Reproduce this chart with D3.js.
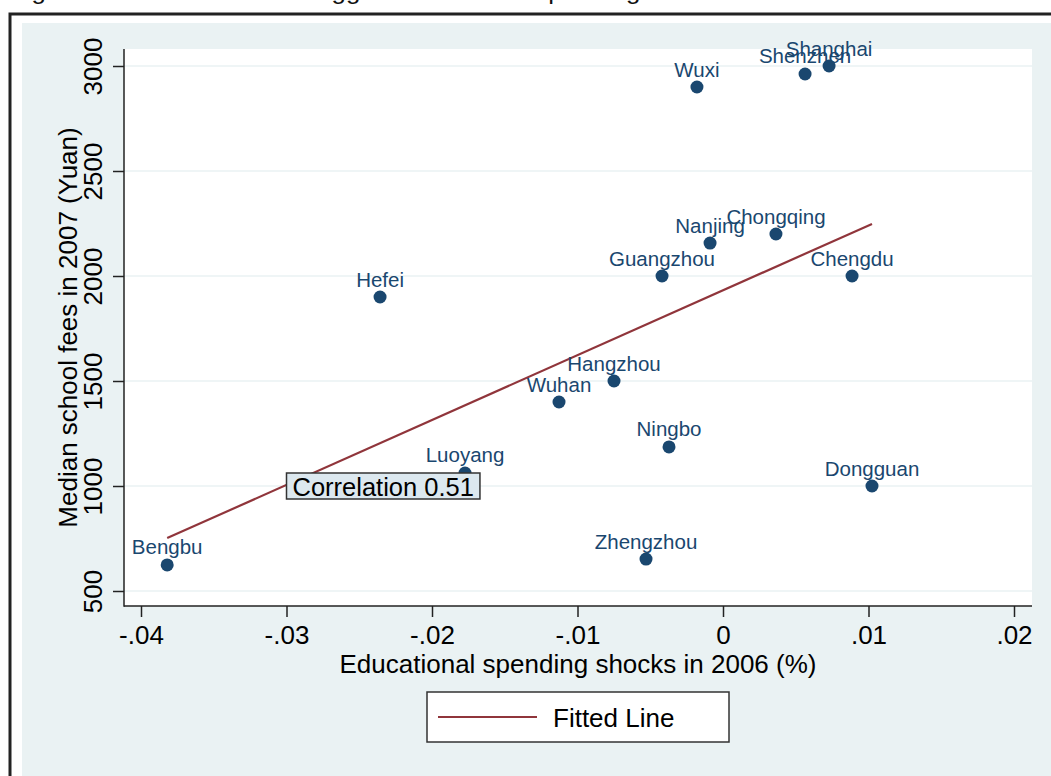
<!DOCTYPE html>
<html><head><meta charset="utf-8">
<script src="https://cdn.jsdelivr.net/npm/d3@7/dist/d3.min.js"></script>
<style>
html,body{margin:0;padding:0;background:#fff;}
svg{display:block;font-family:"Liberation Sans",Arial,Helvetica,sans-serif;}
</style></head>
<body>
<svg id="chart" width="1051" height="776"></svg>
<script>
// ---- data ----
const cities = ["Bengbu","Hefei","Luoyang","Wuhan","Hangzhou","Ningbo","Zhengzhou","Guangzhou","Nanjing","Chongqing","Chengdu","Wuxi","Shenzhen","Shanghai","Dongguan"];
const shocks = [-0.0382,-0.02357,-0.01773,-0.01127,-0.00749,-0.00371,-0.00529,-0.00419,-0.00089,0.00364,0.00887,-0.00179,0.00564,0.00729,0.01024];
const fees   = [624,1900,1062,1400,1500,1186,652,2000,2157,2200,2000,2900,2962,3000,1000];
const fitX = [-0.0382, 0.01024];
const fitY = [752, 2248];
const xTicks = [-0.04,-0.03,-0.02,-0.01,0,0.01,0.02];
const xTickLabels = ["-.04","-.03","-.02","-.01","0",".01",".02"];
const yTicks = [500,1000,1500,2000,2500,3000];
const yTickLabels = ["500","1000","1500","2000","2500","3000"];
const corrX = -0.03, corrY = 1000, corrText = "Correlation 0.51";
const xTitle = "Educational spending shocks in 2006 (%)";
const yTitle = "Median school fees in 2007 (Yuan)";
const legendLabel = "Fitted Line";
const caption = "Figure 4: School fees and lagged educational spending shocks.";

// ---- layout ----
const svg = d3.select("#chart");
const P = {left:124, right:1032, top:49, bottom:606};
const x = d3.scaleLinear().domain([-0.04,0.02]).range([141,1014]);
const y = d3.scaleLinear().domain([500,3000]).range([591,66]);
const navy = "#1a476f", maroon = "#90353b", bg = "#eaf2f3";
const FS = 26;

// caption (cut off at top)
svg.append("text").attr("x",10).attr("y",-1).attr("font-size",22)
  .attr("fill","#111").attr("textLength",725).attr("lengthAdjust","spacingAndGlyphs")
  .text(caption);

// outer frame and background
svg.append("rect").attr("x",22).attr("y",23).attr("width",1051-22).attr("height",776-23).attr("fill",bg);
svg.append("path").attr("d","M10,776 L10,14 L1051,14").attr("fill","none").attr("stroke","#222").attr("stroke-width",3);

// plot region
svg.append("rect").attr("x",P.left).attr("y",P.top).attr("width",P.right-P.left).attr("height",P.bottom-P.top).attr("fill","#fff");

// gridlines
svg.append("g").selectAll("line").data(yTicks).join("line")
  .attr("x1",P.left).attr("x2",P.right).attr("y1",d=>y(d)).attr("y2",d=>y(d))
  .attr("stroke",bg).attr("stroke-width",1.5);

// axes
const xAxis = d3.axisBottom(x).tickValues(xTicks).tickFormat((d,i)=>xTickLabels[i]).tickSize(11).tickPadding(6);
const gx = svg.append("g").attr("transform",`translate(0,${P.bottom})`).call(xAxis);
gx.select(".domain").remove();
gx.selectAll(".tick line").attr("stroke","#222").attr("stroke-width",1.5);
gx.selectAll(".tick text").attr("font-size",FS).attr("fill","#000").attr("font-family","Liberation Sans, Arial, sans-serif")
  .attr("y",38).attr("dy",0);

const yAxis = d3.axisLeft(y).tickValues(yTicks).tickFormat((d,i)=>yTickLabels[i]).tickSize(11);
const gy = svg.append("g").attr("transform",`translate(${P.left},0)`).call(yAxis);
gy.select(".domain").remove();
gy.selectAll(".tick line").attr("stroke","#222").attr("stroke-width",1.5);
gy.selectAll(".tick text").attr("font-size",FS).attr("fill","#000").attr("font-family","Liberation Sans, Arial, sans-serif")
  .attr("text-anchor","middle").attr("x",0).attr("y",-22).attr("dy",0).attr("transform","rotate(-90)");

svg.append("line").attr("x1",P.left).attr("x2",P.left).attr("y1",P.top).attr("y2",P.bottom+0.75).attr("stroke","#222").attr("stroke-width",1.5);
svg.append("line").attr("x1",P.left).attr("x2",P.right).attr("y1",P.bottom).attr("y2",P.bottom).attr("stroke","#222").attr("stroke-width",1.5);

// titles
svg.append("text").attr("x",(P.left+P.right)/2).attr("y",673).attr("text-anchor","middle").attr("font-size",FS).attr("fill","#000").text(xTitle);
svg.append("text").attr("transform",`translate(77,${(P.top+P.bottom)/2}) rotate(-90)`).attr("text-anchor","middle").attr("font-size",FS).attr("fill","#000").text(yTitle);

// fitted line
const pts = cities.map((c,i)=>({name:c, sx:shocks[i], fy:fees[i]}));
svg.append("path").datum(fitX.map((v,i)=>[v,fitY[i]]))
  .attr("d", d3.line().x(d=>x(d[0])).y(d=>y(d[1])))
  .attr("fill","none").attr("stroke",maroon).attr("stroke-width",2.2);

// points
svg.append("g").selectAll("circle").data(pts).join("circle")
  .attr("cx",d=>x(d.sx)).attr("cy",d=>y(d.fy)).attr("r",6.5).attr("fill",navy);

// labels
svg.append("g").selectAll("text").data(pts).join("text")
  .attr("x",d=>x(d.sx)).attr("y",d=>y(d.fy)-10.5).attr("text-anchor","middle")
  .attr("font-size",20.5).attr("fill",navy).text(d=>d.name);

// correlation annotation
const cg = svg.append("g");
const crect = cg.append("rect").attr("x",x(corrX)).attr("y",y(corrY)-13).attr("height",26)
  .attr("fill","#dce8ef").attr("stroke","#333").attr("stroke-width",1.5);
const ct = cg.append("text").attr("x",x(corrX)+6).attr("y",y(corrY)+10).attr("font-size",25.5).attr("fill","#000").text(corrText);
crect.attr("width", ct.node().getBBox().width + 12);

// legend
const lg = svg.append("g");
lg.append("rect").attr("x",427).attr("y",692).attr("width",302).attr("height",50).attr("fill","#fff").attr("stroke","#333").attr("stroke-width",1.5);
lg.append("line").attr("x1",438).attr("x2",537).attr("y1",717).attr("y2",717).attr("stroke",maroon).attr("stroke-width",2.2);
lg.append("text").attr("x",553).attr("y",727).attr("font-size",FS).attr("fill","#000").text(legendLabel);
</script>
</body></html>
